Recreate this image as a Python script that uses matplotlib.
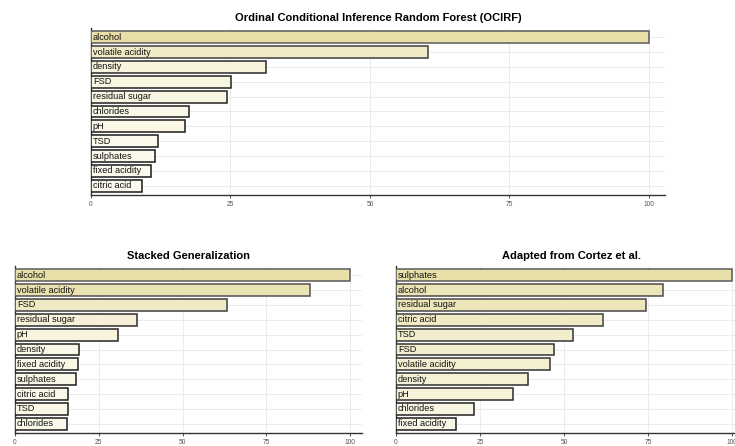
import numpy as np
import matplotlib.pyplot as plt
from matplotlib.colors import LinearSegmentedColormap

plt.rcParams['font.family'] = ['Liberation Sans', 'DejaVu Sans']

# variable importance, scaled so the top variable is 100
ocirf_vars = ['alcohol', 'volatile acidity', 'density', 'FSD', 'residual sugar',
              'chlorides', 'pH', 'TSD', 'sulphates', 'fixed acidity', 'citric acid']
ocirf_imp = [100, 60.4, 31.3, 25.1, 24.4, 17.6, 16.9, 12.0, 11.5, 10.7, 9.1]

stack_vars = ['alcohol', 'volatile acidity', 'FSD', 'residual sugar', 'pH',
              'density', 'fixed acidity', 'sulphates', 'citric acid', 'TSD', 'chlorides']
stack_imp = [100, 87.9, 63.2, 36.5, 30.7, 19.0, 18.9, 18.1, 15.7, 15.7, 15.6]

cortez_vars = ['sulphates', 'alcohol', 'residual sugar', 'citric acid', 'TSD', 'FSD',
               'volatile acidity', 'density', 'pH', 'chlorides', 'fixed acidity']
cortez_imp = [100, 79.5, 74.4, 61.6, 52.7, 47.0, 45.7, 39.3, 34.7, 23.2, 18.0]

fill_cmap = LinearSegmentedColormap.from_list('khaki', ['#fdfcf4', '#e9dfa8'])
edge_cmap = LinearSegmentedColormap.from_list('edge', ['#111111', '#5a5a5a'])

fig = plt.figure(figsize=(7.35, 4.46), dpi=100)


def imp_panel(rect, names, vals, title, xmax):
    ax = fig.add_axes(rect)
    vals = np.asarray(vals, dtype=float)
    ypos = np.arange(len(vals))[::-1]
    frac = vals / 100.0
    ax.barh(ypos, vals, height=0.8, color=fill_cmap(frac),
            edgecolor=[edge_cmap(f) for f in frac], linewidth=1.1, zorder=3)
    # variable names sit inside the bars, just right of zero
    for y, name in zip(ypos, names):
        ax.annotate(name, xy=(0, y), xytext=(1.3, 0), textcoords='offset points',
                    va='center', ha='left', fontsize=6.6, color='#111111', zorder=4)
    ax.set_xlim(0, xmax)
    ax.set_ylim(-0.62, len(vals) - 0.38)
    ax.set_xticks([0, 25, 50, 75, 100])
    ax.set_yticks(ypos)
    ax.set_yticklabels([])
    ax.tick_params(axis='y', length=0)
    ax.tick_params(axis='x', length=2, width=0.6, color='#333333',
                   labelsize=4.8, labelcolor='#555555', pad=2)
    ax.grid(True, color='#ebebeb', linewidth=0.7, zorder=0)
    for side in ['top', 'right']:
        ax.spines[side].set_visible(False)
    for side in ['left', 'bottom']:
        ax.spines[side].set_color('#333333')
        ax.spines[side].set_linewidth(1.0)
    ax.set_title(title, fontsize=8.0, fontweight='bold', pad=5)
    return ax


imp_panel([0.1238, 0.5628, 0.7812, 0.3744], ocirf_vars, ocirf_imp,
          'Ordinal Conditional Inference Random Forest (OCIRF)', 102.9)
imp_panel([0.0204, 0.0291, 0.4721, 0.3745], stack_vars, stack_imp,
          'Stacked Generalization', 103.5)
imp_panel([0.5388, 0.0291, 0.4762, 0.3745], cortez_vars, cortez_imp,
          'Adapted from Cortez et al.', 104.2)

fig.savefig('out.png', dpi=100)
